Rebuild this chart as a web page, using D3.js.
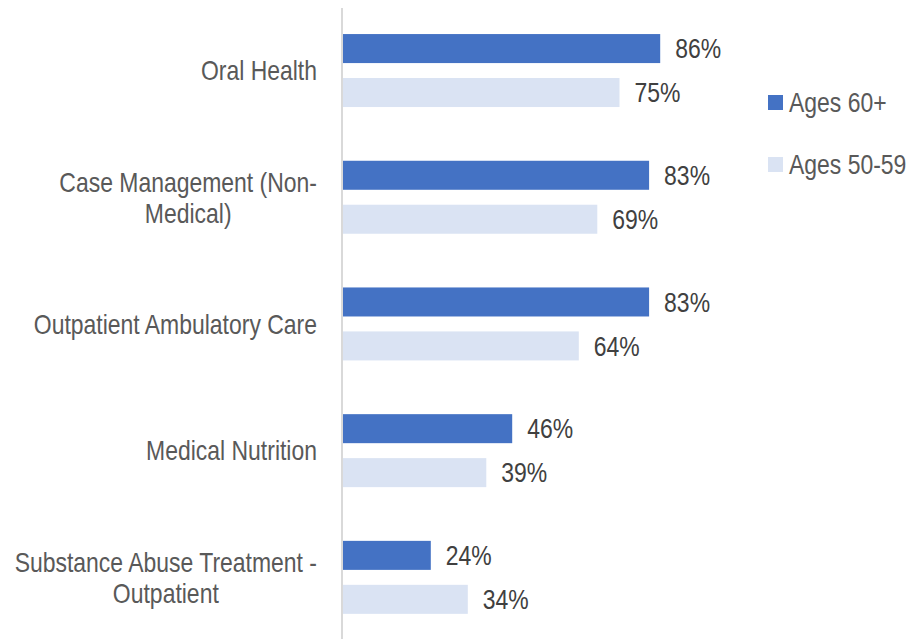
<!DOCTYPE html>
<html>
<head>
<meta charset="utf-8">
<script src="https://cdn.jsdelivr.net/npm/d3@7"></script>
<style>
  body { margin: 0; background: #fff; }
  svg text { font-family: "Liberation Sans", Arial, sans-serif; }
</style>
</head>
<body>
<div id="chart"></div>
<script>
const categories = [
  ["Oral Health"],
  ["Case Management (Non-", "Medical)"],
  ["Outpatient Ambulatory Care"],
  ["Medical Nutrition"],
  ["Substance Abuse Treatment -", "Outpatient"]
];
const seriesNames = ["Ages 60+", "Ages 50-59"];
const ages60 = [86, 83, 83, 46, 24];
const ages50 = [75, 69, 64, 39, 34];
const colors = ["#4472C4", "#DAE3F3"];

const W = 911, H = 639;
const axisX = 342;
const fontSize = 28;
const narrow = 0.82; // squeeze Liberation Sans to look like Arial Narrow

const svg = d3.select("#chart")
  .append("svg")
  .attr("width", W)
  .attr("height", H);

const keys = categories.map(d => d.join(" "));
const data = keys.map((k, i) => ({key: k, lines: categories[i], values: [ages60[i], ages50[i]]}));

const x = d3.scaleLinear().domain([0, 100]).range([axisX, axisX + 370]);
const y = d3.scaleBand().domain(keys).range([7.2, 640.7]).paddingInner(0.424).paddingOuter(0.212);
const y1 = d3.scaleBand().domain(seriesNames).range([0, y.bandwidth()]).paddingInner(0.34);

// bars
const groups = svg.selectAll("g.cat")
  .data(data)
  .enter()
  .append("g")
  .attr("class", "cat")
  .attr("transform", d => `translate(0,${y(d.key)})`);

groups.selectAll("rect")
  .data(d => d.values.map((v, j) => ({name: seriesNames[j], value: v, j})))
  .enter()
  .append("rect")
  .attr("x", x(0))
  .attr("y", d => y1(d.name))
  .attr("width", d => x(d.value) - x(0))
  .attr("height", y1.bandwidth())
  .attr("fill", d => colors[d.j]);

groups.selectAll("text.val")
  .data(d => d.values.map((v, j) => ({name: seriesNames[j], value: v})))
  .enter()
  .append("text")
  .attr("class", "val")
  .attr("transform", d => `translate(${x(d.value) + 15},${y1(d.name) + y1.bandwidth() / 2}) scale(${narrow},1)`)
  .attr("dy", "0.35em")
  .attr("font-size", fontSize)
  .attr("fill", "#404040")
  .text(d => d.value + "%");

// axis line
svg.append("line")
  .attr("x1", axisX).attr("x2", axisX)
  .attr("y1", 8).attr("y2", H)
  .attr("stroke", "#d9d9d9")
  .attr("stroke-width", 2);

// category labels (centered multi-line, right edge near axis)
const labels = svg.selectAll("text.cat")
  .data(data)
  .enter()
  .append("text")
  .attr("class", "cat")
  .attr("font-size", fontSize)
  .attr("fill", "#595959")
  .attr("text-anchor", "end")
  .attr("transform", d => `translate(317,${y(d.key) + y.bandwidth() / 2}) scale(${narrow},1)`);

labels.each(function(d) {
  const t = d3.select(this);
  const n = d.lines.length;
  t.selectAll("tspan")
    .data(d.lines)
    .enter()
    .append("tspan")
    .attr("x", 0)
    .attr("y", (l, i) => (i - (n - 1) / 2) * 31)
    .attr("dy", "0.35em")
    .text(l => l);
  if (n > 1) {
    // centre shorter lines under the widest one
    const widths = [];
    t.selectAll("tspan").each(function() { widths.push(this.getComputedTextLength()); });
    const maxW = d3.max(widths);
    t.selectAll("tspan").attr("x", (l, i) => -(maxW - widths[i]) / 2);
  }
});

// legend
const legend = svg.selectAll("g.legend")
  .data(seriesNames)
  .enter()
  .append("g")
  .attr("class", "legend")
  .attr("transform", (d, i) => `translate(768,${102 + i * 62})`);

legend.append("rect")
  .attr("x", 0).attr("y", -7)
  .attr("width", 15).attr("height", 15)
  .attr("fill", (d, i) => colors[i]);

legend.append("text")
  .attr("transform", `translate(21,0) scale(${narrow},1)`)
  .attr("dy", "0.35em")
  .attr("font-size", fontSize)
  .attr("fill", "#595959")
  .text(d => d);
</script>
</body>
</html>
